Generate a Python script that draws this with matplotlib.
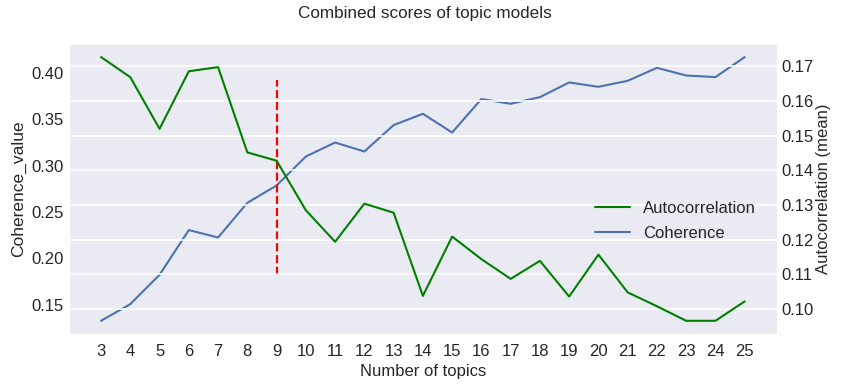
import matplotlib
matplotlib.use("Agg")
import matplotlib.pyplot as plt
import seaborn as sns

# Datos
topics = list(range(3, 26))
coherence = [0.1327, 0.1507, 0.1823, 0.2306, 0.2226, 0.2600, 0.2787, 0.3100,
             0.3251, 0.3154, 0.3439, 0.3561, 0.3359, 0.3720, 0.3669, 0.3741,
             0.3899, 0.3852, 0.3917, 0.4057, 0.3974, 0.3957, 0.4173]
autocorr = [0.1727, 0.1669, 0.1520, 0.1686, 0.1698, 0.1452, 0.1428, 0.1285,
            0.1194, 0.1304, 0.1278, 0.1038, 0.1209, 0.1144, 0.1087, 0.1139,
            0.1036, 0.1157, 0.1048, 0.1008, 0.0966, 0.0966, 0.1022]
autocorr_ticks = [0.10, 0.11, 0.12, 0.13, 0.14, 0.15, 0.16, 0.17]
best_k = 9
vline_range = (0.182, 0.393)

sns.set_style("darkgrid")
plt.rcParams["font.family"] = ["Liberation Sans", "DejaVu Sans"]

fig = plt.figure(figsize=(8.5, 3.85), dpi=100)
ax = fig.add_axes([0.081, 0.1325, 0.833, 0.7535])
ax.grid(False)

l_coh, = ax.plot(topics, coherence, color="#4c72b0", linewidth=1.5, label="Coherence")
ax.vlines(best_k, vline_range[0], vline_range[1], colors="red", linestyles="--", linewidth=1.6)
ax.set_xticks(topics)
ax.set_xlabel("Number of topics", fontsize=12, labelpad=4)
ax.set_ylabel("Coherence_value", fontsize=12.5, labelpad=4)
ax.tick_params(axis="both", labelsize=12, length=0)
ax.tick_params(axis="x", pad=7)

ax2 = ax.twinx()
l_ac, = ax2.plot(topics, autocorr, color="green", linewidth=1.5, label="Autocorrelation")
ax2.set_yticks(autocorr_ticks)
ax2.set_ylabel("Autocorrelation (mean)", fontsize=12, labelpad=1)
ax2.tick_params(axis="y", labelsize=12, length=0)
ax2.grid(True, color="white", linewidth=1.2)
for sp in ax2.spines.values():
    sp.set_visible(False)

ax2.legend(handles=[l_ac, l_coh], loc="center right", bbox_to_anchor=(0.9915, 0.39),
           frameon=False, fontsize=12, handlelength=2.1, labelspacing=0.6)

fig.suptitle("Combined scores of topic models", fontsize=12.3, y=0.966, va="center")

fig.savefig("out.png", dpi=100)
plt.close(fig)
